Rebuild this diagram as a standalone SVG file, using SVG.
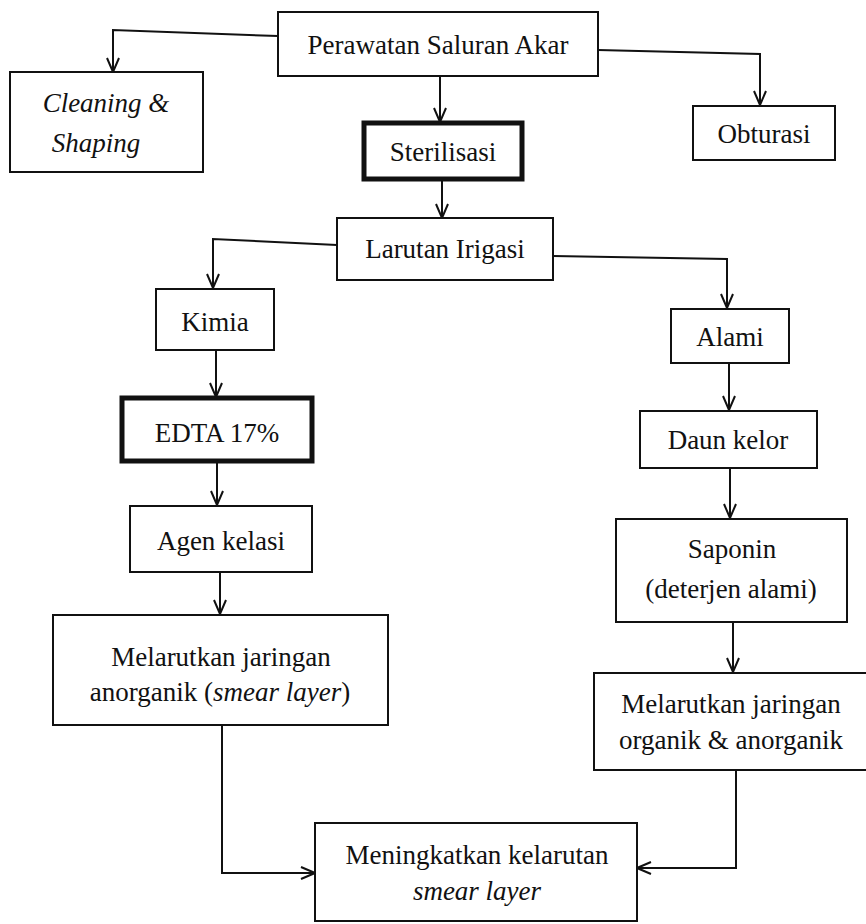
<svg xmlns="http://www.w3.org/2000/svg" width="866" height="924" viewBox="0 0 866 924">
<defs>
<style>
.box{fill:#fff;stroke:#111;stroke-width:2}
.thick{fill:#fff;stroke:#111;stroke-width:5}
text{font-family:"Liberation Serif","Times New Roman",Times,serif;font-size:27px;fill:#111;text-anchor:middle}
.i{font-style:italic}
.c{fill:none;stroke:#111;stroke-width:2}
</style>
<marker id="ah" viewBox="0 0 16 14" refX="15" refY="7" markerWidth="16" markerHeight="14" markerUnits="userSpaceOnUse" orient="auto">
<path d="M1,1 L15,7 L1,13" fill="none" stroke="#111" stroke-width="2"/>
</marker>
</defs>
<rect width="866" height="924" fill="#fff"/>
<g id="connectors">
<path class="c" d="M278,36 L113,30 L113,72" marker-end="url(#ah)"/>
<path class="c" d="M440,76 L440,122" marker-end="url(#ah)"/>
<path class="c" d="M598,50 L760,54 L760,105" marker-end="url(#ah)"/>
<path class="c" d="M442,180 L442,218" marker-end="url(#ah)"/>
<path class="c" d="M337,245 L213,239 L213,288" marker-end="url(#ah)"/>
<path class="c" d="M553,256 L727,259 L727,308" marker-end="url(#ah)"/>
<path class="c" d="M216,350 L216,397" marker-end="url(#ah)"/>
<path class="c" d="M217,462 L217,505" marker-end="url(#ah)"/>
<path class="c" d="M220,572 L220,614" marker-end="url(#ah)"/>
<path class="c" d="M729,363 L729,410" marker-end="url(#ah)"/>
<path class="c" d="M730,468 L730,518" marker-end="url(#ah)"/>
<path class="c" d="M733,622 L733,672" marker-end="url(#ah)"/>
<path class="c" d="M222,725 L222,873 L315,873" marker-end="url(#ah)"/>
<path class="c" d="M736,770 L736,868 L637,868" marker-end="url(#ah)"/>
</g>
<g id="perawatan">
<rect class="box" x="278" y="12" width="320" height="64"/>
<text x="438" y="54">Perawatan Saluran Akar</text>
</g>
<g id="cleaning">
<rect class="box" x="10" y="72" width="193" height="100"/>
<text class="i" x="106" y="112">Cleaning &amp;</text>
<text class="i" x="96" y="152">Shaping</text>
</g>
<g id="sterilisasi">
<rect class="thick" x="364" y="123" width="158" height="56"/>
<text x="443" y="161">Sterilisasi</text>
</g>
<g id="obturasi">
<rect class="box" x="693" y="106" width="142" height="54"/>
<text x="764" y="143">Obturasi</text>
</g>
<g id="larutan">
<rect class="box" x="337" y="218" width="216" height="62"/>
<text x="445" y="258">Larutan Irigasi</text>
</g>
<g id="kimia">
<rect class="box" x="156" y="289" width="118" height="61"/>
<text x="215" y="331">Kimia</text>
</g>
<g id="alami">
<rect class="box" x="671" y="309" width="118" height="54"/>
<text x="730" y="346">Alami</text>
</g>
<g id="edta">
<rect class="thick" x="122" y="398" width="190" height="63"/>
<text x="217" y="442">EDTA 17%</text>
</g>
<g id="daunkelor">
<rect class="box" x="640" y="411" width="177" height="57"/>
<text x="728" y="449">Daun kelor</text>
</g>
<g id="agen">
<rect class="box" x="130" y="506" width="182" height="66"/>
<text x="221" y="550">Agen kelasi</text>
</g>
<g id="saponin">
<rect class="box" x="616" y="519" width="231" height="103"/>
<text x="732" y="558">Saponin</text>
<text x="731" y="598">(deterjen alami)</text>
</g>
<g id="melarutkan-anorganik">
<rect class="box" x="53" y="615" width="335" height="110"/>
<text x="221" y="666">Melarutkan jaringan</text>
<text x="220" y="701">anorganik (<tspan class="i">smear layer</tspan>)</text>
</g>
<g id="melarutkan-organik">
<rect class="box" x="594" y="673" width="280" height="97"/>
<text x="731" y="713">Melarutkan jaringan</text>
<text x="731" y="749">organik &amp; anorganik</text>
</g>
<g id="meningkatkan">
<rect class="box" x="315" y="823" width="322" height="98"/>
<text x="477" y="864">Meningkatkan kelarutan</text>
<text class="i" x="477" y="900">smear layer</text>
</g>
</svg>
